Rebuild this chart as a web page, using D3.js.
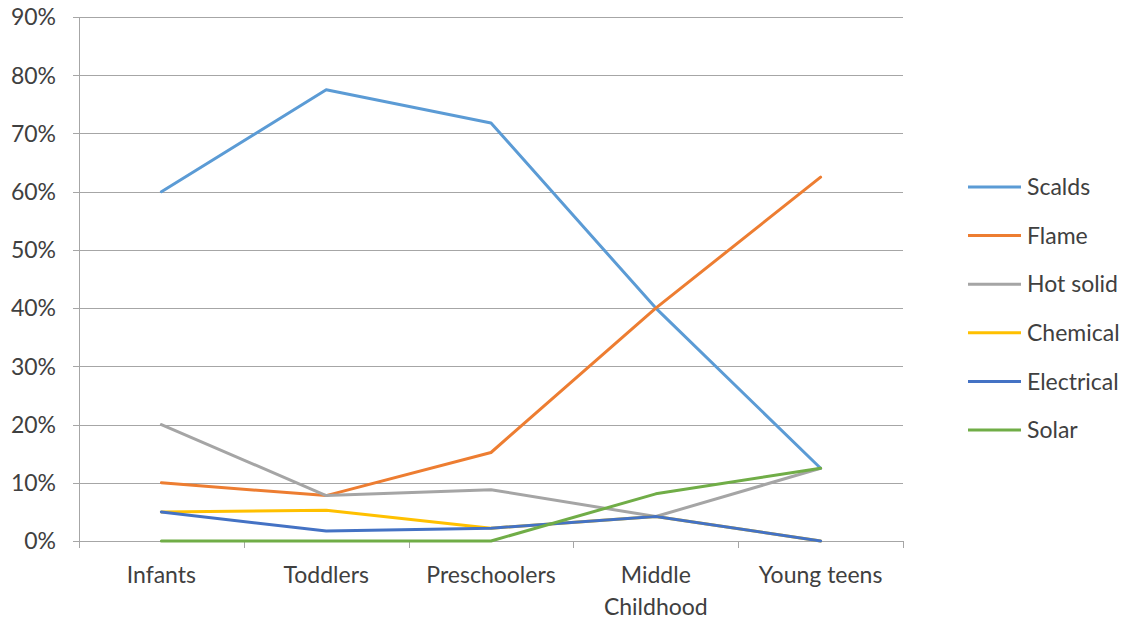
<!DOCTYPE html>
<html>
<head>
<meta charset="utf-8">
<script src="https://cdn.jsdelivr.net/npm/d3@7"></script>
<style>
  body { margin: 0; background: #fff; }
  text { font-family: Lato, "Open Sans", sans-serif; fill: #404040; }
</style>
</head>
<body>
<script>
// categories and series (percent values)
var groups = ["Infants", "Toddlers", "Preschoolers", "Middle Childhood", "Young teens"];
var seriesNames = ["Scalds", "Flame", "Hot solid", "Chemical", "Electrical", "Solar"];
var scalds     = [60, 77.5, 71.8, 40, 12.5];
var flame      = [10, 7.8, 15.2, 40, 62.5];
var hotSolid   = [20, 7.8, 8.8, 4.2, 12.5];
var chemical   = [5, 5.3, 2.2, 4.2, 0];
var electrical = [5, 1.7, 2.2, 4.2, 0];
var solar      = [0, 0, 0, 8.1, 12.5];
var yTicks = [0, 10, 20, 30, 40, 50, 60, 70, 80, 90];
var colors = ["#5B9BD5", "#ED7D31", "#A5A5A5", "#FFC000", "#4472C4", "#70AD47"];

var allSeries = [scalds, flame, hotSolid, chemical, electrical, solar];

var W = 1137, H = 625;
var m = {left: 79, top: 17, right: 234, bottom: 84};
var width = W - m.left - m.right;
var height = H - m.top - m.bottom;

var svg = d3.select("body").append("svg")
    .attr("width", W).attr("height", H);

var g = svg.append("g")
    .attr("transform", "translate(" + m.left + "," + m.top + ")");

// x: band scale, lines go through band centres
var x = d3.scaleBand().domain(groups).range([0, width]);
var y = d3.scaleLinear().domain([0, 90]).range([height, 0]);

// gridlines
g.append("g").selectAll("line").data(yTicks).join("line")
    .attr("x1", -6).attr("x2", width)
    .attr("y1", function (d) { return Math.round(y(d)) + 0.5; })
    .attr("y2", function (d) { return Math.round(y(d)) + 0.5; })
    .attr("stroke", "#a6a6a6").attr("stroke-width", 1);

// y labels
g.append("g").selectAll("text").data(yTicks).join("text")
    .attr("x", -23).attr("y", function (d) { return y(d); })
    .attr("dy", "0.36em")
    .attr("text-anchor", "end")
    .style("font-size", "23px")
    .text(function (d) { return d + "%"; });

// y axis line
g.append("line")
    .attr("x1", 0.5).attr("x2", 0.5).attr("y1", 0).attr("y2", height)
    .attr("stroke", "#a6a6a6");

// x ticks at band boundaries
var bounds = groups.map(function (d) { return x(d); }).concat([width]);
g.append("g").selectAll("line").data(bounds).join("line")
    .attr("x1", function (d) { return Math.round(d) + 0.5; })
    .attr("x2", function (d) { return Math.round(d) + 0.5; })
    .attr("y1", height).attr("y2", height + 7)
    .attr("stroke", "#a6a6a6");

// x labels (wrap "Middle Childhood")
var xl = g.append("g").selectAll("text").data(groups).join("text")
    .attr("x", function (d) { return x(d) + x.bandwidth() / 2; })
    .attr("y", height + 42)
    .attr("text-anchor", "middle")
    .style("font-size", "23px");
xl.each(function (d) {
  var words = d === "Middle Childhood" ? ["Middle", "Childhood"] : [d];
  var t = d3.select(this);
  words.forEach(function (w, i) {
    t.append("tspan")
      .attr("x", x(d) + x.bandwidth() / 2)
      .attr("dy", i === 0 ? 0 : 32)
      .text(w);
  });
});

// lines
var line = d3.line()
    .x(function (d, i) { return x(groups[i]) + x.bandwidth() / 2; })
    .y(function (d) { return y(d); });

g.append("g").selectAll("path").data(allSeries).join("path")
    .attr("d", line)
    .attr("fill", "none")
    .attr("stroke", function (d, i) { return colors[i]; })
    .attr("stroke-width", 3)
    .attr("stroke-linejoin", "round")
    .attr("stroke-linecap", "round");

// legend
var lg = svg.append("g").attr("transform", "translate(968,187)");
var items = lg.selectAll("g").data(seriesNames).join("g")
    .attr("transform", function (d, i) { return "translate(0," + (i * 48.6) + ")"; });
items.append("line")
    .attr("x1", 0).attr("x2", 53).attr("y1", 0).attr("y2", 0)
    .attr("stroke", function (d, i) { return colors[i]; })
    .attr("stroke-width", 3);
items.append("text")
    .attr("x", 59).attr("dy", "0.36em")
    .style("font-size", "23px")
    .text(function (d) { return d; });
</script>
</body>
</html>
